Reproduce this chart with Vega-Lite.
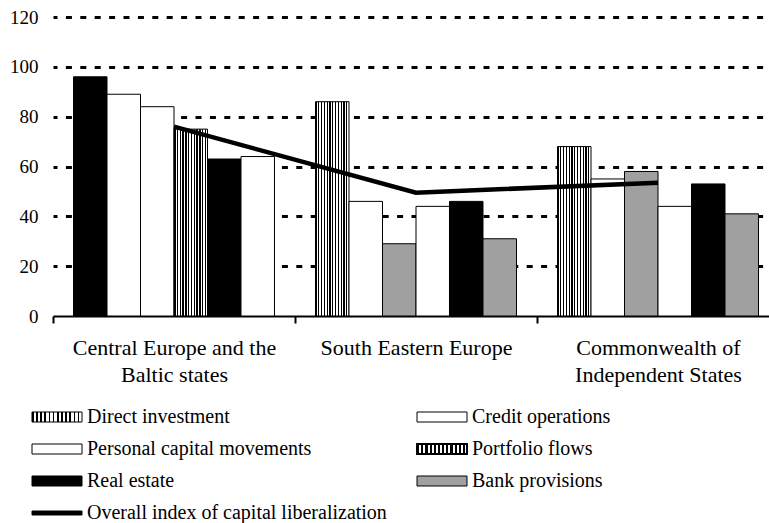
{
  "$schema": "https://vega.github.io/schema/vega-lite/v6.json",
  "width": 716,
  "height": 299,
  "autosize": {"type": "none"},
  "padding": {"left": 53, "top": 17, "right": 0, "bottom": 207},
  "background": "white",
  "config": {"view": {"stroke": null}, "font": "Times New Roman, Liberation Serif, DejaVu Serif, serif"},
  "params": [
    {"name": "stripesFine", "expr": "{gradient: 'linear', x1: 0, y1: 0, x2: 1, y2: 0, stops: [{offset: 0, color: 'black'}, {offset: 0.033, color: 'black'}, {offset: 0.033, color: 'white'}, {offset: 0.0833, color: 'white'}, {offset: 0.0833, color: 'black'}, {offset: 0.1163, color: 'black'}, {offset: 0.1163, color: 'white'}, {offset: 0.1667, color: 'white'}, {offset: 0.1667, color: 'black'}, {offset: 0.1997, color: 'black'}, {offset: 0.1997, color: 'white'}, {offset: 0.25, color: 'white'}, {offset: 0.25, color: 'black'}, {offset: 0.283, color: 'black'}, {offset: 0.283, color: 'white'}, {offset: 0.3333, color: 'white'}, {offset: 0.3333, color: 'black'}, {offset: 0.3663, color: 'black'}, {offset: 0.3663, color: 'white'}, {offset: 0.4167, color: 'white'}, {offset: 0.4167, color: 'black'}, {offset: 0.4497, color: 'black'}, {offset: 0.4497, color: 'white'}, {offset: 0.5, color: 'white'}, {offset: 0.5, color: 'black'}, {offset: 0.533, color: 'black'}, {offset: 0.533, color: 'white'}, {offset: 0.5833, color: 'white'}, {offset: 0.5833, color: 'black'}, {offset: 0.6163, color: 'black'}, {offset: 0.6163, color: 'white'}, {offset: 0.6667, color: 'white'}, {offset: 0.6667, color: 'black'}, {offset: 0.6997, color: 'black'}, {offset: 0.6997, color: 'white'}, {offset: 0.75, color: 'white'}, {offset: 0.75, color: 'black'}, {offset: 0.783, color: 'black'}, {offset: 0.783, color: 'white'}, {offset: 0.8333, color: 'white'}, {offset: 0.8333, color: 'black'}, {offset: 0.8663, color: 'black'}, {offset: 0.8663, color: 'white'}, {offset: 0.9167, color: 'white'}, {offset: 0.9167, color: 'black'}, {offset: 0.9497, color: 'black'}, {offset: 0.9497, color: 'white'}, {offset: 1, color: 'white'}]}"},
    {"name": "stripesBold", "expr": "{gradient: 'linear', x1: 0, y1: 0, x2: 1, y2: 0, stops: [{offset: 0, color: 'black'}, {offset: 0.045, color: 'black'}, {offset: 0.045, color: 'white'}, {offset: 0.0833, color: 'white'}, {offset: 0.0833, color: 'black'}, {offset: 0.1283, color: 'black'}, {offset: 0.1283, color: 'white'}, {offset: 0.1667, color: 'white'}, {offset: 0.1667, color: 'black'}, {offset: 0.2117, color: 'black'}, {offset: 0.2117, color: 'white'}, {offset: 0.25, color: 'white'}, {offset: 0.25, color: 'black'}, {offset: 0.295, color: 'black'}, {offset: 0.295, color: 'white'}, {offset: 0.3333, color: 'white'}, {offset: 0.3333, color: 'black'}, {offset: 0.3783, color: 'black'}, {offset: 0.3783, color: 'white'}, {offset: 0.4167, color: 'white'}, {offset: 0.4167, color: 'black'}, {offset: 0.4617, color: 'black'}, {offset: 0.4617, color: 'white'}, {offset: 0.5, color: 'white'}, {offset: 0.5, color: 'black'}, {offset: 0.545, color: 'black'}, {offset: 0.545, color: 'white'}, {offset: 0.5833, color: 'white'}, {offset: 0.5833, color: 'black'}, {offset: 0.6283, color: 'black'}, {offset: 0.6283, color: 'white'}, {offset: 0.6667, color: 'white'}, {offset: 0.6667, color: 'black'}, {offset: 0.7117, color: 'black'}, {offset: 0.7117, color: 'white'}, {offset: 0.75, color: 'white'}, {offset: 0.75, color: 'black'}, {offset: 0.795, color: 'black'}, {offset: 0.795, color: 'white'}, {offset: 0.8333, color: 'white'}, {offset: 0.8333, color: 'black'}, {offset: 0.8783, color: 'black'}, {offset: 0.8783, color: 'white'}, {offset: 0.9167, color: 'white'}, {offset: 0.9167, color: 'black'}, {offset: 0.9617, color: 'black'}, {offset: 0.9617, color: 'white'}, {offset: 1, color: 'white'}]}"}
  ],
  "datasets": {
    "bars": [
      {"region": "Central Europe and the Baltic states", "series": "Direct investment", "value": 96},
      {"region": "Central Europe and the Baltic states", "series": "Credit operations", "value": 89},
      {"region": "Central Europe and the Baltic states", "series": "Personal capital movements", "value": 84},
      {"region": "Central Europe and the Baltic states", "series": "Portfolio flows", "value": 75},
      {"region": "Central Europe and the Baltic states", "series": "Real estate", "value": 63},
      {"region": "Central Europe and the Baltic states", "series": "Bank provisions", "value": 64},
      {"region": "South Eastern Europe", "series": "Direct investment", "value": 86},
      {"region": "South Eastern Europe", "series": "Credit operations", "value": 46},
      {"region": "South Eastern Europe", "series": "Personal capital movements", "value": 29},
      {"region": "South Eastern Europe", "series": "Portfolio flows", "value": 44},
      {"region": "South Eastern Europe", "series": "Real estate", "value": 46},
      {"region": "South Eastern Europe", "series": "Bank provisions", "value": 31},
      {"region": "Commonwealth of Independent States", "series": "Direct investment", "value": 68},
      {"region": "Commonwealth of Independent States", "series": "Credit operations", "value": 55},
      {"region": "Commonwealth of Independent States", "series": "Personal capital movements", "value": 58},
      {"region": "Commonwealth of Independent States", "series": "Portfolio flows", "value": 44},
      {"region": "Commonwealth of Independent States", "series": "Real estate", "value": 53},
      {"region": "Commonwealth of Independent States", "series": "Bank provisions", "value": 41}
    ],
    "index": [
      {"region": "Central Europe and the Baltic states", "series": "Overall index of capital liberalization", "value": 76},
      {"region": "South Eastern Europe", "series": "Overall index of capital liberalization", "value": 49.5},
      {"region": "Commonwealth of Independent States", "series": "Overall index of capital liberalization", "value": 53.5}
    ]
  },
  "layer": [
    {
      "data": {"name": "bars"},
      "mark": {"type": "bar", "stroke": "black", "strokeWidth": 1},
      "encoding": {
        "x": {
          "field": "region", "type": "nominal",
          "scale": {"domain": ["Central Europe and the Baltic states", "South Eastern Europe", "Commonwealth of Independent States"], "paddingInner": 0, "paddingOuter": 0, "range": [0, 726]},
          "axis": {
            "title": null, "labelAngle": 0, "labelFont": "Times New Roman, Liberation Serif, DejaVu Serif, serif", "labelFontSize": 22, "labelColor": "black",
            "labelPadding": 14, "labelLineHeight": 27, "labelLimit": 400,
            "labelExpr": "datum.value == 'Central Europe and the Baltic states' ? ['Central Europe and the', 'Baltic states'] : datum.value == 'Commonwealth of Independent States' ? ['Commonwealth of', 'Independent States'] : datum.value",
            "tickBand": "extent", "ticks": true, "tickSize": 7, "tickColor": "black", "tickWidth": 2,
            "domainColor": "black", "domainWidth": 2, "grid": false
          }
        },
        "xOffset": {
          "field": "series", "type": "nominal",
          "sort": ["Direct investment", "Credit operations", "Personal capital movements", "Portfolio flows", "Real estate", "Bank provisions"],
          "scale": {"paddingInner": 0, "paddingOuter": 0.612}
        },
        "y": {
          "field": "value", "type": "quantitative",
          "scale": {"domain": [0, 120], "nice": false},
          "axis": {
            "title": null, "values": [0, 20, 40, 60, 80, 100, 120],
            "labelFont": "Times New Roman, Liberation Serif, DejaVu Serif, serif", "labelFontSize": 19, "labelColor": "black", "labelPadding": 15,
            "ticks": false, "domain": false,
            "grid": true, "gridColor": "black", "gridDash": [6, 8.4], "gridDashOffset": 2,
            "gridWidth": {"condition": {"test": "datum.value === 0", "value": 0}, "value": 3}
          }
        },
        "color": {
          "field": "series", "type": "nominal",
          "condition": [
            {"test": "datum.region === 'Central Europe and the Baltic states' && datum.series === 'Direct investment'", "value": "black"},
            {"test": "datum.region !== 'Central Europe and the Baltic states' && datum.series === 'Personal capital movements'", "value": "#a0a0a0"},
            {"test": "datum.region !== 'Central Europe and the Baltic states' && datum.series === 'Portfolio flows'", "value": "white"},
            {"test": "datum.region === 'Central Europe and the Baltic states' && datum.series === 'Bank provisions'", "value": "white"}
          ],
          "scale": {
            "domain": ["Direct investment", "Credit operations", "Personal capital movements", "Portfolio flows", "Real estate", "Bank provisions", "Overall index of capital liberalization"],
            "range": [{"expr": "stripesFine"}, "white", "white", {"expr": "stripesBold"}, "black", "#a0a0a0", "black"]
          },
          "legend": {
            "orient": "none", "legendX": -6, "legendY": 390, "columns": 2, "direction": "horizontal", "title": null, "padding": 0,
            "symbolSize": 100, "symbolType": "M-5,-1H5V1H-5Z",
            "symbolStrokeColor": "black", "symbolStrokeWidth": 1,
            "labelFont": "Times New Roman, Liberation Serif, DejaVu Serif, serif", "labelFontSize": 20, "labelColor": "black",
            "labelOffset": 20, "labelLimit": 500, "columnPadding": 26, "rowPadding": 12,
            "encode": {
              "symbols": {
                "update": {
                  "shape": {"signal": "datum.value === 'Overall index of capital liberalization' ? 'M-5,-0.4H5V0.4H-5Z' : 'M-5,-1H5V1H-5Z'"},
                  "stroke": {"value": "black"},
                  "strokeWidth": {"signal": "datum.value === 'Portfolio flows' ? 2 : 1"}
                }
              }
            }
          }
        }
      }
    },
    {
      "data": {"name": "index"},
      "mark": {"type": "line", "strokeWidth": 4.5, "color": "black"},
      "encoding": {
        "x": {"field": "region", "type": "nominal"},
        "y": {"field": "value", "type": "quantitative"}
      }
    }
  ]
}
